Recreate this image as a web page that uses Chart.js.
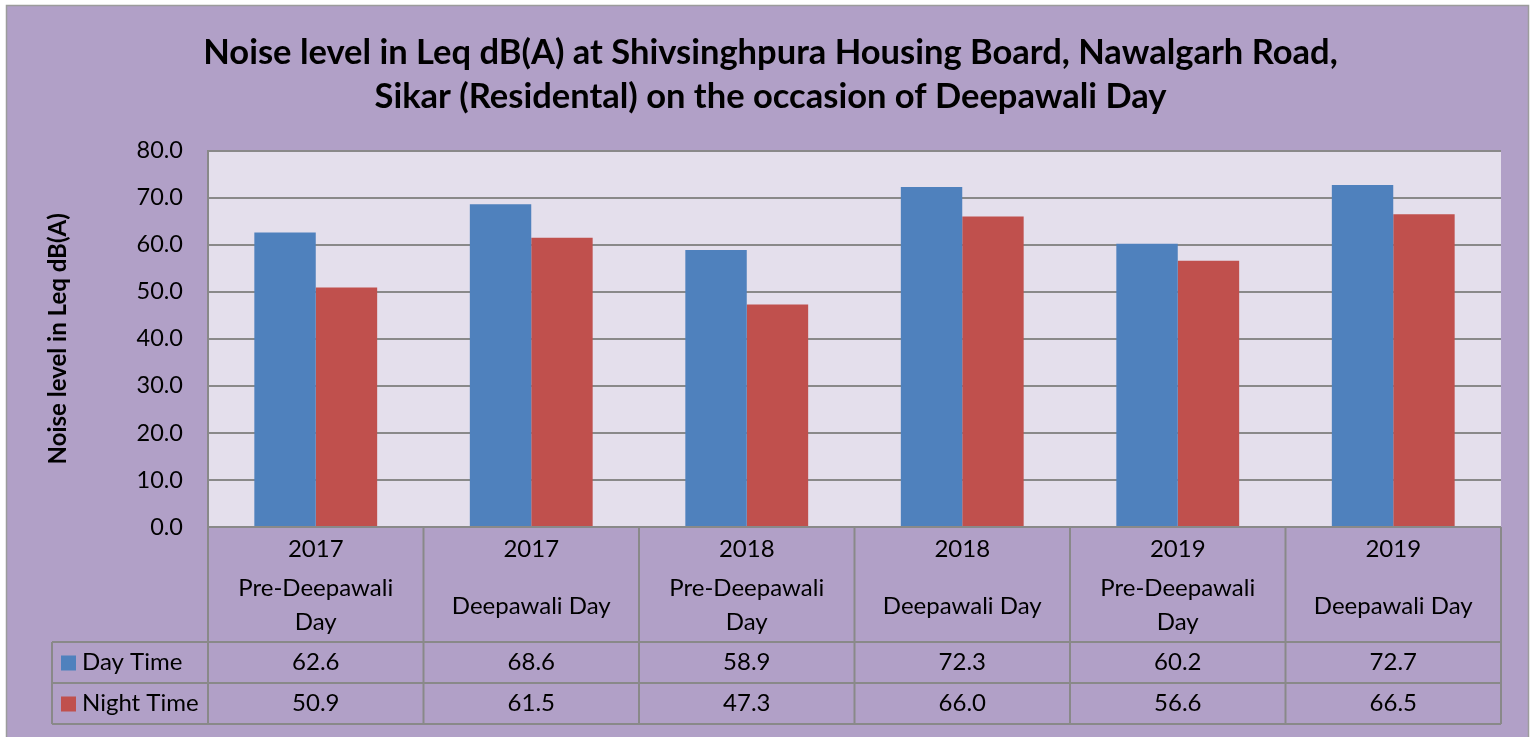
<!DOCTYPE html>
<html>
<head>
<meta charset="utf-8">
<script src="https://cdn.jsdelivr.net/npm/chart.js@4.4.1/dist/chart.umd.min.js"></script>
<style>
  html, body { margin: 0; padding: 0; background: #fff; }
  #wrap { width: 1535px; height: 737px; }
</style>
</head>
<body>
<div id="wrap"><canvas id="noiseChart" width="1535" height="737"></canvas></div>
<script>
// chart data
const years = ['2017', '2017', '2018', '2018', '2019', '2019'];
const occasions = ['Pre-Deepawali Day', 'Deepawali Day', 'Pre-Deepawali Day', 'Deepawali Day', 'Pre-Deepawali Day', 'Deepawali Day'];
const dayTime = [62.6, 68.6, 58.9, 72.3, 60.2, 72.7];
const nightTime = [50.9, 61.5, 47.3, 66.0, 56.6, 66.5];
const seriesNames = ['Day Time', 'Night Time'];
const yTicks = { min: 0, max: 80, step: 10 };

const FONT = 'Lato, Carlito, "Open Sans", sans-serif';
const BLUE = '#4F81BD';
const RED = '#C0504D';
const LINE = '#898989';

// background: white page, purple chart frame, pale plot area
const backgroundPlugin = {
    id: 'bg',
    beforeDraw(chart) {
        const { ctx, chartArea: a } = chart;
        ctx.save();
        ctx.fillStyle = '#ffffff';
        ctx.fillRect(0, 0, chart.width, chart.height);
        ctx.fillStyle = '#B1A0C7';
        ctx.fillRect(6, 5, 1523, chart.height);
        ctx.strokeStyle = '#9c9c9c';
        ctx.lineWidth = 1.5;
        ctx.strokeRect(6.5, 5.5, 1522, chart.height + 10);
        ctx.fillStyle = '#E4DFEC';
        ctx.fillRect(a.left, a.top, a.right - a.left, a.bottom - a.top);
        ctx.restore();
    }
};

// excel-like data table under the plot
const dataTablePlugin = {
    id: 'dataTable',
    afterDraw(chart) {
        const { ctx, chartArea: a } = chart;
        const x = chart.scales.x;
        const n = chart.data.labels.length;
        const colW = x.getPixelForValue(1) - x.getPixelForValue(0);
        const headBottom = a.bottom + 115;
        const rowH = 41;
        const legendLeft = 52;
        const rows = [headBottom, headBottom + rowH, headBottom + 2 * rowH];

        ctx.save();
        ctx.strokeStyle = LINE;
        ctx.lineWidth = 2;
        ctx.beginPath();
        // vertical lines
        for (let i = 0; i <= n; i++) {
            const lx = x.getPixelForValue(i) - colW / 2;
            ctx.moveTo(lx, a.bottom);
            ctx.lineTo(lx, rows[2]);
        }
        ctx.moveTo(legendLeft, rows[0]);
        ctx.lineTo(legendLeft, rows[2]);
        // horizontal lines
        rows.forEach(ry => {
            ctx.moveTo(legendLeft, ry);
            ctx.lineTo(a.right, ry);
        });
        ctx.stroke();

        ctx.fillStyle = '#000';
        ctx.textAlign = 'center';
        ctx.textBaseline = 'middle';
        ctx.font = '24px ' + FONT;

        chart.data.labels.forEach((lab, i) => {
            const cx = x.getPixelForValue(i);
            ctx.fillText(lab[0], cx, a.bottom + 22);
            const occ = lab[1];
            if (ctx.measureText(occ).width > colW * 0.8) {
                const words = occ.split(' ');
                const last = words.pop();
                ctx.fillText(words.join(' '), cx, a.bottom + 61);
                ctx.fillText(last, cx, a.bottom + 95);
            } else {
                ctx.fillText(occ, cx, a.bottom + 79);
            }
        });

        chart.data.datasets.forEach((ds, r) => {
            const cy = rows[r] + rowH / 2;
            ds.data.forEach((v, i) => {
                ctx.fillText(v.toFixed(1), x.getPixelForValue(i), cy);
            });
            ctx.fillStyle = ds.backgroundColor;
            ctx.fillRect(61, cy - 7, 15, 15);
            ctx.fillStyle = '#000';
            ctx.textAlign = 'left';
            ctx.fillText(ds.label, 82, cy);
            ctx.textAlign = 'center';
        });
        ctx.restore();
    }
};

new Chart(document.getElementById('noiseChart'), {
    type: 'bar',
    data: {
        labels: years.map((y, i) => [y, occasions[i]]),
        datasets: [
            { label: seriesNames[0], data: dayTime, backgroundColor: BLUE, borderWidth: 0 },
            { label: seriesNames[1], data: nightTime, backgroundColor: RED, borderWidth: 0 }
        ]
    },
    options: {
        responsive: false,
        animation: false,
        layout: { padding: { top: 0, left: 40, right: 34, bottom: 210 } },
        datasets: { bar: { barPercentage: 1, categoryPercentage: 0.57 } },
        scales: {
            x: {
                ticks: { display: false },
                grid: { display: false, drawTicks: false },
                border: { display: false },
                afterFit: s => { s.height = 0; }
            },
            y: {
                min: yTicks.min,
                max: yTicks.max,
                ticks: {
                    stepSize: yTicks.step,
                    padding: 25,
                    color: '#000',
                    font: { family: FONT, size: 23.5 },
                    callback: v => Number(v).toFixed(1)
                },
                grid: { color: LINE, lineWidth: 2, drawTicks: false },
                border: { display: true, color: LINE, width: 2 },
                title: {
                    display: true,
                    text: 'Noise level in Leq dB(A)',
                    color: '#000',
                    font: { family: FONT, size: 24, weight: 'bold', lineHeight: 1.2 },
                    padding: { top: 4, bottom: 0 }
                },
                afterFit: s => { s.width = 168; }
            }
        },
        plugins: {
            legend: { display: false },
            tooltip: { enabled: false },
            title: {
                display: true,
                text: ['Noise level in Leq dB(A) at Shivsinghpura Housing Board, Nawalgarh Road,',
                       'Sikar (Residental) on the occasion of Deepawali Day'],
                color: '#000',
                font: { family: FONT, size: 34.5, weight: 'bold', lineHeight: 1.3 },
                padding: { top: 30, bottom: 31 }
            }
        }
    },
    plugins: [backgroundPlugin, dataTablePlugin]
});
</script>
</body>
</html>
